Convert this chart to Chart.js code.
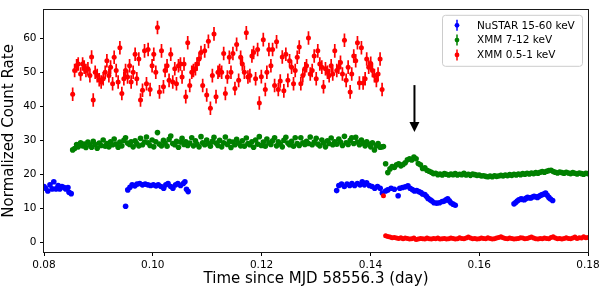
<!DOCTYPE html>
<html><head><meta charset="utf-8">
<script src="https://cdn.jsdelivr.net/npm/chart.js@4/dist/chart.umd.min.js"></script>
<style>html,body{margin:0;padding:0;background:#fff;}#wrap{width:603px;height:291px;position:relative;}</style>
</head><body><div id="wrap"><canvas id="c"></canvas></div>
<script>
// ---------------- DATA ----------------
const xTicks = [0.08, 0.10, 0.12, 0.14, 0.16, 0.18];
const xTickLabels = ["0.08", "0.10", "0.12", "0.14", "0.16", "0.18"];
const yTicks = [0, 10, 20, 30, 40, 50, 60];
const yTickLabels = ["0", "10", "20", "30", "40", "50", "60"];

const seriesLabels = ["NuSTAR 15-60 keV", "XMM 7-12 keV", "XMM 0.5-1 keV"];

// XMM time bins before the drop
const xmmTimesPre = [
0.08527,0.08563,0.08600,0.08629,0.08673,0.08710,0.08739,0.08771,0.08807,0.08844,
0.08875,0.08905,0.08941,0.08978,0.09015,0.09051,0.09088,0.09125,0.09156,0.09193,
0.09224,0.09261,0.09290,0.09327,0.09363,0.09395,0.09431,0.09468,0.09499,0.09536,
0.09573,0.09602,0.09639,0.09675,0.09706,0.09743,0.09774,0.09811,0.09848,0.09884,
0.09914,0.09950,0.09987,0.10018,0.10055,0.10086,0.10123,0.10160,0.10196,0.10226,
0.10262,0.10299,0.10330,0.10367,0.10404,0.10435,0.10472,0.10508,0.10538,0.10574,
0.10606,0.10642,0.10679,0.10716,0.10747,0.10784,0.10813,0.10850,0.10886,0.10917,
0.10954,0.10991,0.11022,0.11059,0.11095,0.11125,0.11162,0.11198,0.11229,0.11266,
0.11303,0.11334,0.11371,0.11407,0.11437,0.11473,0.11510,0.11541,0.11578,0.11615,
0.11646,0.11683,0.11719,0.11749,0.11785,0.11822,0.11853,0.11890,0.11927,0.11958,
0.11995,0.12031,0.12068,0.12097,0.12134,0.12171,0.12202,0.12239,0.12275,0.12307,
0.12343,0.12380,0.12409,0.12446,0.12483,0.12514,0.12551,0.12587,0.12618,0.12655,
0.12692,0.12721,0.12758,0.12795,0.12826,0.12862,0.12894,0.12930,0.12967,0.13004,
0.13033,0.13070,0.13107,0.13138,0.13174,0.13211,0.13242,0.13279,0.13308,0.13345,
0.13382,0.13419,0.13450,0.13486,0.13523,0.13554,0.13591,0.13628,0.13657,0.13694,
0.13730,0.13762,0.13798,0.13835,0.13866,0.13903,0.13932,0.13969,0.14006,0.14037,
0.14074,0.14110,0.14141,0.14178,0.14215];

// XMM time bins after the drop
const xmmTimesPost = [
0.1424,0.1428,0.1432,0.1436,0.1440,0.1444,0.1448,0.1452,0.1456,0.1460,
0.1464,0.1468,0.1472,0.1476,0.1480,0.1484,0.1488,0.1492,0.1496,0.1500,
0.1504,0.1508,0.1512,0.1516,0.1520,0.1524,0.1528,0.1532,0.1536,0.1540,
0.1544,0.1548,0.1552,0.1556,0.1560,0.1564,0.1568,0.1572,0.1576,0.1580,
0.1584,0.1588,0.1592,0.1596,0.1600,0.1604,0.1608,0.1612,0.1616,0.1620,
0.1624,0.1628,0.1632,0.1636,0.1640,0.1644,0.1648,0.1652,0.1656,0.1660,
0.1664,0.1668,0.1672,0.1676,0.1680,0.1684,0.1688,0.1692,0.1696,0.1700,
0.1704,0.1708,0.1712,0.1716,0.1720,0.1724,0.1728,0.1732,0.1736,0.1740,
0.1744,0.1748,0.1752,0.1756,0.1760,0.1764,0.1768,0.1772,0.1776,0.1780,
0.1784,0.1788,0.1792,0.1796,0.1800];

// XMM 0.5-1 keV
const softRatePre = [
43.6,50.6,52.0,52.5,49.6,52.5,51.6,50.6,51.1,49.1,
54.6,41.9,50.1,49.1,47.9,47.2,48.2,50.1,53.5,49.1,
51.6,46.7,54.5,50.6,47.2,57.3,43.8,48.2,50.6,48.7,
52.0,47.2,50.1,55.4,48.2,54.0,41.9,44.8,56.4,46.7,
56.8,45.0,52.0,55.4,50.1,63.3,44.3,56.4,45.8,50.6,
52.0,47.7,55.4,47.2,51.1,46.7,52.0,52.5,48.7,52.5,
42.9,58.8,46.2,50.1,50.6,51.1,52.5,54.0,55.9,46.2,
56.4,43.4,59.2,39.5,49.1,61.4,42.9,50.1,50.6,50.1,
55.6,43.8,48.7,54.5,50.1,55.6,45.3,58.3,47.7,54.5,
52.5,50.1,61.7,48.7,49.1,54.9,55.9,48.2,56.8,41.0,
48.8,59.7,45.0,50.1,56.8,52.0,56.8,46.2,59.1,45.0,
47.5,54.6,44.6,55.4,47.7,53.5,51.6,46.7,50.6,54.5,
57.5,46.7,49.1,51.1,52.0,60.2,49.6,50.6,54.9,48.2,
56.4,52.5,51.6,45.8,51.1,50.1,49.1,52.0,49.6,56.4,
50.6,51.6,53.0,49.6,59.5,47.7,51.6,44.3,49.6,54.9,
53.5,58.8,46.9,57.3,46.9,48.2,54.0,51.6,52.7,50.6,
49.1,47.7,49.6,54.0,45.0];
const softRatePost = [
13.7,1.9,1.7,1.5,1.3,1.4,1.2,1.1,1.3,1.0,
1.2,1.1,0.9,1.0,1.2,0.8,0.9,1.1,1.0,0.9,
1.2,1.0,0.9,1.1,1.0,1.2,0.9,1.0,1.1,0.9,
1.0,1.2,1.1,0.9,1.0,1.3,1.1,1.0,1.2,1.5,
1.2,1.0,1.1,0.9,1.0,1.2,1.1,1.0,1.3,1.1,
0.9,1.0,1.2,1.4,1.6,1.3,1.1,1.0,1.2,1.1,
0.9,1.0,1.1,1.3,1.2,1.0,1.1,1.3,1.5,1.2,
1.0,0.9,1.1,1.0,1.2,1.1,1.0,1.4,1.6,1.2,
1.0,1.1,0.9,1.1,1.3,1.1,1.0,1.2,1.5,1.1,
1.3,1.2,1.6,1.3,1.4];
const softErrPre = 2.0;
const softErrPost = 0.3;

// XMM 7-12 keV
const hardRatePre = [
27.2,27.6,28.8,28.1,29.3,28.4,28.9,27.9,29.5,28.7,
28.0,29.7,28.8,27.7,29.2,28.5,30.1,28.3,29.1,28.1,
29.6,28.7,30.4,28.9,28.0,29.5,28.4,30.0,30.8,29.2,
28.8,29.6,28.1,29.9,29.1,28.4,30.6,28.7,29.5,31.0,
29.3,28.5,30.1,28.1,29.6,32.3,28.9,28.4,30.0,29.2,
28.3,30.3,31.3,29.1,28.7,29.7,28.0,29.5,30.6,28.8,
29.6,28.5,29.2,30.8,28.4,29.9,28.9,28.1,31.1,29.3,
28.7,30.1,29.1,28.3,29.7,30.9,29.2,28.5,30.0,28.1,
29.3,31.0,28.8,29.7,27.9,29.5,28.7,30.3,29.2,28.4,
29.9,28.3,30.7,29.1,28.7,29.6,28.0,30.1,28.9,31.1,
28.5,29.5,28.3,30.4,29.3,28.8,29.9,30.8,28.4,29.6,
28.9,28.1,30.0,30.9,29.2,28.7,29.7,28.3,30.8,29.1,
28.5,30.8,29.3,28.8,29.7,29.1,31.0,28.7,29.5,30.6,
28.9,28.4,30.1,29.3,28.1,29.9,29.1,30.7,28.7,29.6,
28.9,30.4,29.5,28.5,31.2,29.3,28.8,30.0,30.8,29.1,
30.9,29.5,28.7,30.1,29.2,28.4,29.6,28.9,28.1,29.3,
27.2,28.5,29.1,28.0,28.1];
const hardRatePost = [
28.2,23.1,20.5,21.6,22.3,22.0,22.8,23.1,22.5,22.9,
23.4,24.3,24.6,24.2,25.1,24.6,23.2,22.8,21.7,21.9,
21.2,20.9,20.6,20.2,20.3,19.9,20.1,19.8,20.2,20.0,
19.8,20.1,19.9,20.2,19.8,20.0,19.9,20.3,19.8,20.0,
19.7,20.1,19.9,19.7,19.8,19.5,19.6,19.4,19.3,19.5,
19.3,19.6,19.4,19.5,19.7,19.5,19.8,19.6,19.9,19.7,
20.0,19.8,20.1,19.9,20.2,20.0,20.3,20.1,20.4,20.2,
20.5,20.3,20.6,20.8,20.6,20.9,21.1,21.2,20.8,20.6,
20.4,20.7,20.5,20.3,20.6,20.4,20.2,20.5,20.3,20.1,
20.4,20.2,20.0,20.3,20.2];
const hardErr = 0.45;

// NuSTAR 15-60 keV
const nustarTimes = [
0.0800,0.0803,0.0807,0.0811,0.0815,0.0818,0.0822,0.0826,0.0829,0.0833,0.0837,0.0840,0.0844,0.0846,0.0850,
0.0950,
0.0954,0.0958,0.0962,0.0967,0.0971,0.0976,0.0981,0.0986,0.0991,0.0996,0.1001,0.1006,0.1010,0.1015,0.1020,0.1024,0.1028,0.1033,0.1037,0.1042,0.1046,0.1051,0.1056,0.1059,0.1062,0.1065,
0.1338,0.1342,0.1347,0.1352,0.1357,0.1362,0.1366,0.1371,0.1376,0.1381,0.1385,0.1389,0.1393,0.1398,0.1403,0.1408,0.1413,0.1418,
0.1422,0.1428,0.1432,0.1438,0.1444,0.1451,0.1454,0.1459,0.1464,0.1469,0.1473,0.1477,0.1481,0.1485,0.1489,0.1493,0.1496,0.1500,0.1503,0.1506,0.1510,0.1513,0.1517,0.1522,0.1527,0.1532,0.1536,0.1539,0.1542,0.1545,0.1548,0.1552,0.1556,
0.1664,0.1667,0.1670,0.1673,0.1677,0.1680,0.1683,0.1686,0.1689,0.1692,0.1695,0.1698,0.1701,0.1704,0.1707,0.1710,0.1713,0.1716,0.1719,0.1722,0.1725,0.1728,0.1731,0.1735];
const nustarRate = [
16.4,15.9,15.1,16.9,15.7,17.8,15.7,16.7,15.7,16.4,16.1,15.7,16.1,14.7,14.3,
10.6,
15.4,16.2,16.9,16.6,17.1,17.3,16.9,17.1,16.9,16.7,16.9,16.6,16.9,16.4,15.9,16.9,17.3,16.4,15.9,16.9,17.3,16.7,17.3,17.8,15.6,14.9,
15.2,16.7,17.1,16.4,17.1,16.7,17.3,16.7,17.3,16.9,17.8,16.9,17.5,16.7,16.4,15.9,16.4,15.9,
14.5,15.1,15.4,15.9,15.6,13.7,15.9,16.1,16.3,16.6,15.9,15.5,15.1,15.2,14.9,14.6,14.2,14.0,13.5,12.9,12.5,12.1,11.6,11.5,11.6,12.0,12.1,12.5,12.8,12.2,11.6,11.2,10.9,
11.3,11.7,12.1,12.5,12.8,12.6,12.5,12.9,13.2,13.1,13.0,13.3,13.5,13.4,13.2,13.5,13.8,14.0,14.2,14.5,13.8,13.2,12.7,12.3];
const nustarErr = 0.5;

// arrow annotation (data coordinates)
const arrowX = 0.1481, arrowYFrom = 46.3, arrowYTo = 32.5;

// ---------------- BUILD ----------------
const xmmHalfBin = 0.00018;
const nuHalfBin = 0.0002;
const pts = (xs, ys) => xs.map((x, i) => ({x: x, y: ys[i]}));

const softData = pts(xmmTimesPre, softRatePre).concat(pts(xmmTimesPost, softRatePost));
const softErr = xmmTimesPre.map(() => softErrPre).concat(xmmTimesPost.map(() => softErrPost));

const datasets = [
  {label: seriesLabels[0], data: pts(nustarTimes, nustarRate), errY: nustarErr, errX: nuHalfBin,
   backgroundColor: '#0000ff', borderColor: '#0000ff', pointRadius: 2.8, order: 3},
  {label: seriesLabels[1], data: pts(xmmTimesPre, hardRatePre).concat(pts(xmmTimesPost, hardRatePost)),
   errY: hardErr, errX: xmmHalfBin,
   backgroundColor: '#008000', borderColor: '#008000', pointRadius: 2.8, order: 2},
  {label: seriesLabels[2], data: softData, errY: softErr, errX: xmmHalfBin,
   backgroundColor: '#ff0000', borderColor: '#ff0000', pointRadius: 2.5, order: 1}
];
datasets.forEach(d => { d.showLine = false; d.pointBorderWidth = 0; d.pointHoverRadius = d.pointRadius; d.clip = 0; });

const FONT = "'DejaVu Sans', 'Liberation Sans', sans-serif";

const errorBarPlugin = {
  id: 'errorBars',
  beforeDatasetDraw(chart, args) {
    const ds = chart.data.datasets[args.index];
    const xs = chart.scales.x, ys = chart.scales.y, ca = chart.chartArea, ctx = chart.ctx;
    ctx.save();
    ctx.beginPath(); ctx.rect(ca.left, ca.top, ca.right - ca.left, ca.bottom - ca.top); ctx.clip();
    ctx.strokeStyle = ds.backgroundColor; ctx.lineWidth = 1.7;
    ctx.beginPath();
    ds.data.forEach((p, i) => {
      const ey = Array.isArray(ds.errY) ? ds.errY[i] : ds.errY;
      const ex = Array.isArray(ds.errX) ? ds.errX[i] : ds.errX;
      const px = xs.getPixelForValue(p.x), py = ys.getPixelForValue(p.y);
      ctx.moveTo(px, ys.getPixelForValue(p.y - ey)); ctx.lineTo(px, ys.getPixelForValue(p.y + ey));
      ctx.moveTo(xs.getPixelForValue(p.x - ex), py); ctx.lineTo(xs.getPixelForValue(p.x + ex), py);
    });
    ctx.stroke();
    ctx.restore();
  }
};

const framePlugin = {
  id: 'frameArrow',
  afterDatasetsDraw(chart) {
    const ctx = chart.ctx, ca = chart.chartArea, xs = chart.scales.x, ys = chart.scales.y;
    // arrow
    const ax = xs.getPixelForValue(arrowX), ay0 = ys.getPixelForValue(arrowYFrom), ay1 = ys.getPixelForValue(arrowYTo);
    ctx.save();
    ctx.strokeStyle = '#000'; ctx.fillStyle = '#000'; ctx.lineWidth = 2;
    ctx.beginPath(); ctx.moveTo(ax, ay0); ctx.lineTo(ax, ay1 - 9); ctx.stroke();
    ctx.beginPath(); ctx.moveTo(ax - 5, ay1 - 10); ctx.lineTo(ax + 5, ay1 - 10); ctx.lineTo(ax, ay1); ctx.closePath(); ctx.fill();
    // frame
    ctx.strokeStyle = '#1a1a1a'; ctx.lineWidth = 1;
    ctx.strokeRect(Math.round(ca.left) - 0.5, Math.round(ca.top) - 0.5, Math.round(ca.right - ca.left) + 1, Math.round(ca.bottom - ca.top) + 1);
    ctx.restore();
  },
  afterDraw(chart) {
    const ctx = chart.ctx, ca = chart.chartArea;
    const w = 140, h = 51;
    const bx = ca.right - 6 - w, by = ca.top + 5;
    ctx.save();
    ctx.fillStyle = 'rgba(255,255,255,0.8)'; ctx.strokeStyle = '#cccccc'; ctx.lineWidth = 1;
    ctx.beginPath(); ctx.roundRect(bx + 0.5, by + 0.5, w, h, 3); ctx.fill(); ctx.stroke();
    ctx.font = "10.5px " + FONT; ctx.textBaseline = 'middle'; ctx.textAlign = 'left';
    chart.data.datasets.forEach((ds, i) => {
      const cy = by + 10.5 + i * 14.8, cx = bx + 15;
      ctx.strokeStyle = ds.backgroundColor; ctx.fillStyle = ds.backgroundColor; ctx.lineWidth = 1.5;
      ctx.beginPath(); ctx.moveTo(cx, cy - 5.5); ctx.lineTo(cx, cy + 5.5); ctx.stroke();
      ctx.beginPath(); ctx.arc(cx, cy, 2.4, 0, Math.PI * 2); ctx.fill();
      ctx.fillStyle = '#000';
      ctx.fillText(ds.label, bx + 35, cy + 0.5);
    });
    ctx.restore();
  }
};

new Chart(document.getElementById('c'), {
  type: 'scatter',
  data: {datasets: datasets},
  plugins: [errorBarPlugin, framePlugin],
  options: {
    responsive: true, maintainAspectRatio: false, animation: false, devicePixelRatio: 1,
    layout: {padding: {top: 5, right: 15, left: 0, bottom: 0}},
    plugins: {legend: {display: false}, tooltip: {enabled: false}},
    elements: {point: {pointStyle: 'circle'}},
    scales: {
      x: {
        type: 'linear', min: 0.08, max: 0.18,
        afterBuildTicks: s => { s.ticks = xTicks.map(v => ({value: v})); },
        afterFit: s => { s.height = 39; },
        ticks: {callback: (v, i) => xTickLabels[i], color: '#000', font: {family: FONT, size: 10.5}, padding: 2.5, maxRotation: 0, autoSkip: false},
        grid: {display: true, drawOnChartArea: false, drawTicks: true, tickLength: 4, tickColor: '#000', tickWidth: 1},
        border: {display: false},
        title: {display: true, text: 'Time since MJD 58556.3 (day)', color: '#000', font: {family: FONT, size: 15}, padding: {top: 0, bottom: 3}}
      },
      y: {
        type: 'linear', min: -2.9, max: 68.5,
        afterBuildTicks: s => { s.ticks = yTicks.map(v => ({value: v})); },
        afterFit: s => { s.width = 44; },
        ticks: {callback: (v, i) => yTickLabels[i], color: '#000', font: {family: FONT, size: 10.5}, padding: 3.5, autoSkip: false},
        grid: {display: true, drawOnChartArea: false, drawTicks: true, tickLength: 4, tickColor: '#000', tickWidth: 1},
        border: {display: false},
        title: {display: true, text: 'Normalized Count Rate', color: '#000', font: {family: FONT, size: 15}, padding: {top: 0, bottom: 0}}
      }
    }
  }
});
</script></body></html>
